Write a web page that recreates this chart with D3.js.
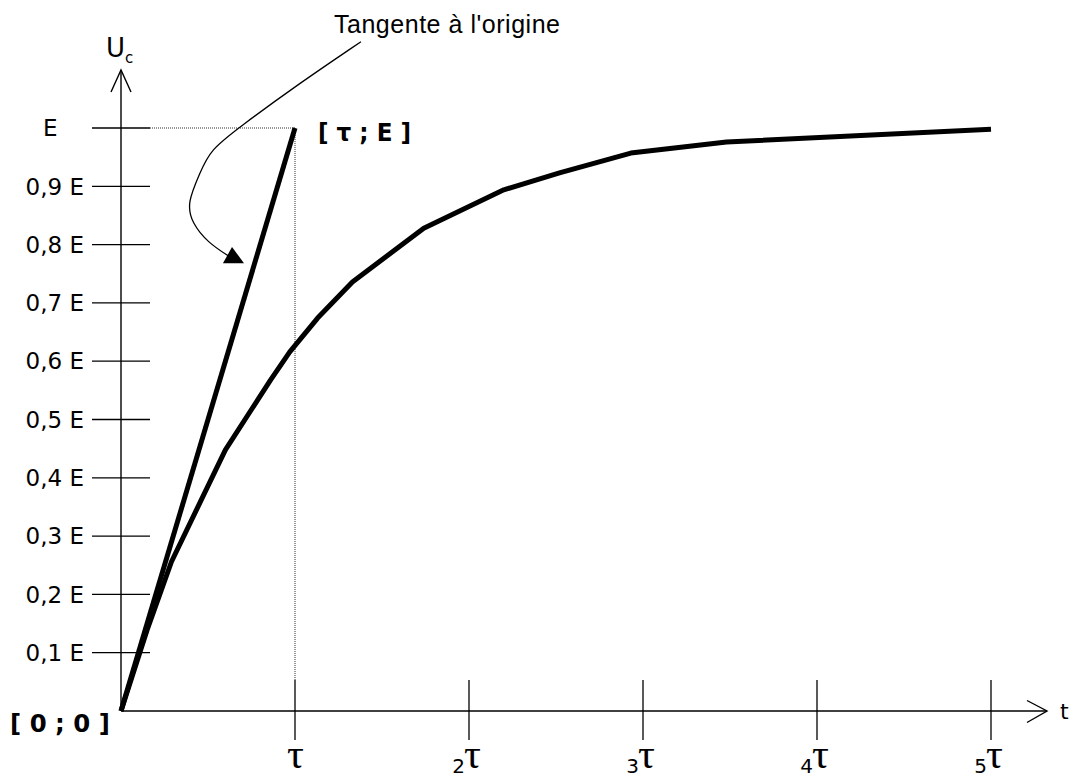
<!DOCTYPE html>
<html>
<head>
<meta charset="utf-8">
<script src="https://cdn.jsdelivr.net/npm/d3@7"></script>
<style>
  html, body { margin: 0; padding: 0; background: #fff; }
  svg { display: block; }
</style>
</head>
<body>
<div id="chart"></div>
<script>
// charge d'un condensateur : Uc(t), t en multiples de tau, Uc en fractions de E
const curveT = [0, 0.15, 0.29, 0.60, 0.86, 0.97, 1.13, 1.33, 1.74, 2.20, 2.52, 2.93, 3.48, 5.0];
const curveU = [0, 0.139, 0.256, 0.448, 0.568, 0.616, 0.674, 0.736, 0.828, 0.894, 0.923, 0.957, 0.976, 0.998];

// tangente a l'origine
const tangentT = [0, 1];
const tangentU = [0, 1];

const yTicks = [0.1, 0.2, 0.3, 0.4, 0.5, 0.6, 0.7, 0.8, 0.9];
const yTickLabels = ["0,1 E", "0,2 E", "0,3 E", "0,4 E", "0,5 E", "0,6 E", "0,7 E", "0,8 E", "0,9 E"];
const xTicks = [1, 2, 3, 4, 5];
const xTickDigits = ["", "2", "3", "4", "5"];

// fleche de l'annotation (en unites du graphe)
const leaderT = [1.379, 0.989, 0.684, 0.511, 0.454, 0.379, 0.408, 0.500, 0.626];
const leaderU = [1.148, 1.069, 1.002, 0.962, 0.923, 0.871, 0.837, 0.803, 0.779];
const arrowT = [0.638, 0.586, 0.707];
const arrowU = [0.796, 0.768, 0.768];

const width = 1072, height = 778;
const x = d3.scaleLinear([0, 5], [121, 991]);
const y = d3.scaleLinear([0, 1], [711, 128]);

const sans = "'DejaVu Sans', sans-serif";

const svg = d3.select("#chart").append("svg")
    .attr("width", width)
    .attr("height", height)
    .attr("viewBox", [0, 0, width, height]);

// axes
const x0 = x(0), y0 = y(0);
svg.append("line")
    .attr("x1", x0).attr("x2", 1047)
    .attr("y1", y0).attr("y2", y0)
    .attr("stroke", "#000").attr("stroke-width", 1.4);
svg.append("path")
    .attr("d", `M1027,700.5 L1047,${y0} L1027,722.5`)
    .attr("fill", "none").attr("stroke", "#000").attr("stroke-width", 1.4);
svg.append("text")
    .attr("x", 1060).attr("y", y0 + 8)
    .attr("font-family", sans).attr("font-size", 22)
    .text("t");

svg.append("line")
    .attr("x1", x0).attr("x2", x0)
    .attr("y1", y0).attr("y2", 70)
    .attr("stroke", "#000").attr("stroke-width", 1.4);
svg.append("path")
    .attr("d", `M111,92 L${x0},70 L131,92`)
    .attr("fill", "none").attr("stroke", "#000").attr("stroke-width", 1.4);
svg.append("text")
    .attr("x", 106).attr("y", 57)
    .attr("font-family", sans).attr("font-size", 26)
    .text("U")
    .append("tspan")
    .attr("font-size", 15).attr("dy", 6)
    .text("c");

// graduations y
const yg = svg.append("g");
yg.selectAll("line")
  .data(yTicks.concat([1]))
  .join("line")
    .attr("x1", x0 - 29).attr("x2", x0 + 29)
    .attr("y1", d => y(d)).attr("y2", d => y(d))
    .attr("stroke", "#000").attr("stroke-width", 1.3);
yg.selectAll("text")
  .data(yTicks)
  .join("text")
    .attr("x", x0 - 37)
    .attr("y", d => y(d))
    .attr("dy", "0.36em")
    .attr("text-anchor", "end")
    .attr("font-family", sans)
    .attr("font-size", 23)
    .text((d, i) => yTickLabels[i]);
yg.append("text")
    .attr("x", 43).attr("y", y(1))
    .attr("dy", "0.36em")
    .attr("font-family", sans).attr("font-size", 23)
    .text("E");

// graduations x
const xg = svg.append("g");
xg.selectAll("line")
  .data(xTicks)
  .join("line")
    .attr("x1", d => x(d)).attr("x2", d => x(d))
    .attr("y1", y0 - 31).attr("y2", y0 + 29)
    .attr("stroke", "#000").attr("stroke-width", 1.3);
xg.selectAll("text.tau")
  .data(xTicks)
  .join("text")
    .attr("class", "tau")
    .attr("x", d => x(d) - (d === 1 ? 8 : 5))
    .attr("y", 768)
    .attr("font-family", "'Liberation Serif', serif")
    .attr("font-size", 42)
    .text("τ");
xg.selectAll("text.digit")
  .data(xTicks.filter((d, i) => xTickDigits[i] !== ""))
  .join("text")
    .attr("class", "digit")
    .attr("x", d => x(d) - 4)
    .attr("y", 773)
    .attr("text-anchor", "end")
    .attr("font-family", sans)
    .attr("font-size", 20)
    .text(d => xTickDigits[xTicks.indexOf(d)]);

// pointilles vers (tau ; E)
svg.append("path")
    .attr("d", `M${x0 + 29},${y(1)} H${x(1)} V${y0 - 31}`)
    .attr("fill", "none")
    .attr("stroke", "#333")
    .attr("stroke-width", 1)
    .attr("stroke-dasharray", "1,1");

// tangente
const line = d3.line().x(d => x(d[0])).y(d => y(d[1]));
svg.append("path")
    .datum(d3.zip(tangentT, tangentU))
    .attr("d", line)
    .attr("fill", "none")
    .attr("stroke", "#000")
    .attr("stroke-width", 5);

// courbe de charge
svg.append("path")
    .datum(d3.zip(curveT, curveU))
    .attr("d", line)
    .attr("fill", "none")
    .attr("stroke", "#000")
    .attr("stroke-width", 5)
    .attr("stroke-linejoin", "round");

// annotation
const smooth = d3.line().x(d => x(d[0])).y(d => y(d[1])).curve(d3.curveBasis);
svg.append("path")
    .datum(d3.zip(leaderT, leaderU))
    .attr("d", smooth)
    .attr("fill", "none")
    .attr("stroke", "#000")
    .attr("stroke-width", 1.3);
svg.append("path")
    .attr("d", line(d3.zip(arrowT, arrowU)) + "Z")
    .attr("fill", "#000");
svg.append("text")
    .attr("x", 334).attr("y", 33)
    .attr("font-family", "'Liberation Sans', sans-serif")
    .attr("font-size", 25)
    .attr("textLength", 226)
    .text("Tangente à l'origine");

// points remarquables
svg.append("text")
    .attr("x", 318).attr("y", y(1) + 13)
    .attr("font-family", sans).attr("font-weight", "bold")
    .attr("font-size", 24)
    .attr("textLength", 93)
    .attr("lengthAdjust", "spacingAndGlyphs")
    .text("[ τ ; E ]");
svg.append("text")
    .attr("x", 10).attr("y", y0 + 21)
    .attr("font-family", sans).attr("font-weight", "bold")
    .attr("font-size", 24)
    .attr("textLength", 100)
    .attr("lengthAdjust", "spacingAndGlyphs")
    .text("[ 0 ; 0 ]");
</script>
</body>
</html>
